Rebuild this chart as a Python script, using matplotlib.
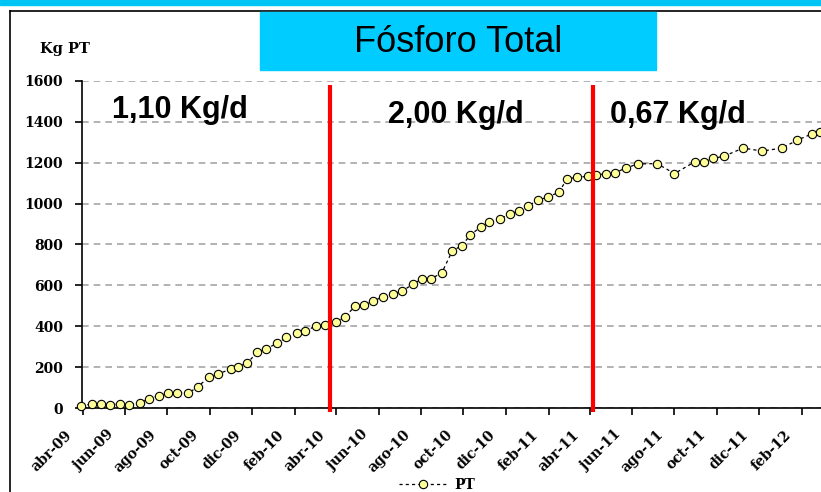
import numpy as np
import pandas as pd
import matplotlib
matplotlib.use("Agg")
import matplotlib.pyplot as plt
import matplotlib.dates as mdates
from matplotlib.patches import Rectangle
from matplotlib.lines import Line2D
from matplotlib.transforms import ScaledTranslation

# Data (cumulative kg of total phosphorus)
fechas = ["2009-03-30", "2009-04-14", "2009-04-28", "2009-05-11", "2009-05-24",
          "2009-06-07", "2009-06-22", "2009-07-06", "2009-07-20", "2009-08-02",
          "2009-08-15", "2009-08-31", "2009-09-14", "2009-09-30", "2009-10-13",
          "2009-10-31", "2009-11-10", "2009-11-24", "2009-12-08", "2009-12-21",
          "2010-01-06", "2010-01-19", "2010-02-03", "2010-02-15", "2010-03-03",
          "2010-03-16", "2010-04-01", "2010-04-14", "2010-04-28", "2010-05-11",
          "2010-05-24", "2010-06-07", "2010-06-22", "2010-07-05", "2010-07-21",
          "2010-08-02", "2010-08-15", "2010-08-31", "2010-09-15", "2010-09-29",
          "2010-10-11", "2010-10-26", "2010-11-07", "2010-11-23", "2010-12-07",
          "2010-12-20", "2011-01-02", "2011-01-17", "2011-01-31", "2011-02-16",
          "2011-02-27", "2011-03-14", "2011-03-30", "2011-04-10", "2011-04-25",
          "2011-05-08", "2011-05-23", "2011-06-09", "2011-07-07", "2011-08-01",
          "2011-08-30", "2011-09-12", "2011-09-26", "2011-10-12", "2011-11-08",
          "2011-12-05", "2012-01-03", "2012-01-25", "2012-02-15", "2012-02-27"]
pt = [10, 20, 20, 17, 20, 15, 25, 45, 60, 75,
      75, 72, 105, 152, 167, 190, 203, 220, 272, 290,
      316, 345, 367, 377, 401, 406, 421, 445, 499, 504,
      524, 543, 558, 572, 607, 631, 631, 661, 768, 795,
      846, 886, 910, 925, 949, 964, 988, 1018, 1032, 1057,
      1120, 1130, 1133, 1140, 1147, 1152, 1174, 1194, 1196, 1147,
      1204, 1204, 1221, 1233, 1272, 1257, 1272, 1311, 1341, 1350]

cortes = ["2010-03-23", "2011-04-06"]
tasas = ["1,10 Kg/d", "2,00 Kg/d", "0,67 Kg/d"]

fechas = pd.to_datetime(fechas)
cortes = pd.to_datetime(cortes)

fig = plt.figure(figsize=(8.21, 4.92), dpi=100)
ax = fig.add_axes([82 / 821, 84 / 492, 739 / 821, 327 / 492])

serif = dict(family="DejaVu Serif", weight="bold", size=10)

ax.plot(fechas, pt, linestyle=(0, (2.5, 2.5)), color="black", linewidth=0.9,
        marker="o", markersize=6, markerfacecolor="#FFFF99",
        markeredgecolor="black", markeredgewidth=0.8, label="PT",
        clip_on=False, zorder=3)

for c in cortes:
    ax.plot([c, c], [-20, 1580], color="#FF0000", linewidth=3, clip_on=False,
            zorder=4, solid_capstyle="butt")

ax.set_xlim(pd.Timestamp("2009-03-31"), pd.Timestamp("2012-02-28"))
ax.set_ylim(0, 1600)
ax.set_yticks(np.arange(0, 1601, 200))
ax.yaxis.grid(True, color="#A6A6A6", linestyle=(0, (4, 3)), linewidth=1.2)
ax.set_axisbelow(True)

ax.xaxis.set_major_locator(mdates.MonthLocator(bymonth=[2, 4, 6, 8, 10, 12]))
meses = {2: "feb", 4: "abr", 6: "jun", 8: "ago", 10: "oct", 12: "dic"}
ax.xaxis.set_major_formatter(
    plt.FuncFormatter(lambda v, p: "%s-%s" % (meses[mdates.num2date(v).month],
                                              mdates.num2date(v).strftime("%y"))))

for s in ["top", "right"]:
    ax.spines[s].set_visible(False)
ax.spines["left"].set_linewidth(1.2)
ax.spines["bottom"].set_linewidth(1.2)
ax.tick_params(axis="both", direction="out", length=5, width=1.2, color="black")
ax.tick_params(axis="y", pad=8.5)

for lab in ax.get_yticklabels():
    lab.set_fontproperties(matplotlib.font_manager.FontProperties(**serif))
for lab in ax.get_xticklabels():
    lab.set_fontproperties(matplotlib.font_manager.FontProperties(**serif))
    lab.set_rotation(45)
    lab.set_ha("right")
    lab.set_va("top")
    lab.set_rotation_mode("anchor")
    lab.set_transform(lab.get_transform() +
                      ScaledTranslation(-18 / 100, -8 / 100, fig.dpi_scale_trans))

# rate annotations
pos = [(0.040, 0.887), (0.414, 0.872), (0.7145, 0.872)]
for (x, y), t in zip(pos, tasas):
    ax.text(x, y, t, transform=ax.transAxes, ha="left", va="baseline",
            family="Liberation Sans", weight="bold", fontsize=22, zorder=5)

# outer frame and header
fig.patches.append(Rectangle((0, 1 - 5 / 492), 1, 5 / 492, transform=fig.transFigure,
                             color="#00C4F4", zorder=0))
fig.lines.append(Line2D([10 / 821, 10 / 821], [0, 1 - 11 / 492], transform=fig.transFigure,
                        color="black", linewidth=1.2))
fig.lines.append(Line2D([10 / 821, 1], [1 - 11 / 492, 1 - 11 / 492], transform=fig.transFigure,
                        color="black", linewidth=1.2))
fig.patches.append(Rectangle((260 / 821, 1 - 70 / 492), 396 / 821, 58 / 492,
                             transform=fig.transFigure, color="#00CCFF", zorder=2))
fig.text(458 / 821, 1 - 42 / 492, "Fósforo Total", ha="center", va="center",
         family="Liberation Sans", fontsize=26, zorder=3)

fig.text(40 / 821, 1 - 49 / 492, "Kg PT", ha="left", va="center",
         family="DejaVu Serif", weight="bold", fontsize=10.5)

leg = fig.legend(loc="center", bbox_to_anchor=(437 / 821, 1 - 485 / 492),
                 frameon=False, prop=matplotlib.font_manager.FontProperties(**serif),
                 handlelength=3.5, handletextpad=0.5)

fig.savefig("out.png", dpi=100)
